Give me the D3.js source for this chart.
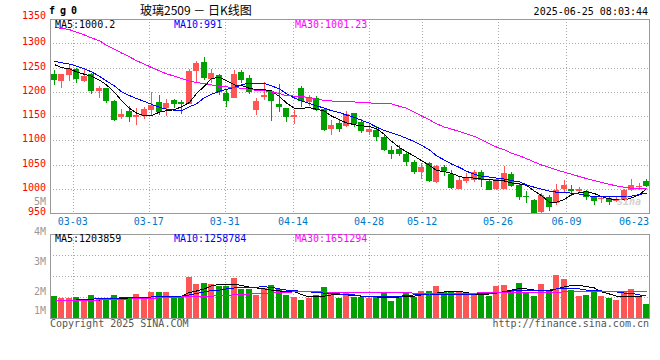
<!DOCTYPE html>
<html lang="zh">
<head>
    <meta charset="UTF-8">
    <title>fg0 日K线图</title>
    <script src="https://cdn.jsdelivr.net/npm/d3@7/dist/d3.min.js"></script>
    <style>
        body { margin: 0; background: #fff; }
        svg { display: block; }
        text { font-family: "DejaVu Sans Mono", monospace; font-size: 10px; white-space: pre; }
    </style>
</head>
<body>
    <script>

        //trading days shown, 02-26 .. 06-24
        var dates = ['02-26','02-27','02-28',
            '03-03','03-04','03-05','03-06','03-07','03-10','03-11','03-12','03-13','03-14',
            '03-17','03-18','03-19','03-20','03-21','03-24','03-25','03-26','03-27','03-28',
            '03-31','04-01','04-02','04-03','04-07','04-08','04-09','04-10','04-11',
            '04-14','04-15','04-16','04-17','04-18','04-21','04-22','04-23','04-24','04-25',
            '04-28','04-29','04-30','05-06','05-07','05-08','05-09',
            '05-12','05-13','05-14','05-15','05-16','05-19','05-20','05-21','05-22','05-23',
            '05-26','05-27','05-28','05-29','05-30','06-03','06-04','06-05','06-06',
            '06-09','06-10','06-11','06-12','06-13','06-16','06-17','06-18','06-19','06-20',
            '06-23','06-24'];

        //daily prices
        var open  = [1237,1222,1235,1246,1222,1237,1202,1208,1181,1147,1160,1148,1151,1162,1179,1167,1183,1178,1175,1243,
                     1262,1227,1235,1198,1188,1240,1229,1163,1190,1202,1175,1166,1147,1207,1178,1187,1164,1123,1136,1130,
                     1156,1138,1117,1122,1107,1079,1082,1072,1056,1034,1053,1013,1045,1030,1000,1016,1018,1035,1016,999,
                     1000,1031,1007,985,977,952,984,971,999,1000,995,996,982,979,981,974,977,998,1003,1015];
        var high  = [1245,1237,1255,1248,1247,1238,1212,1208,1182,1164,1170,1166,1168,1200,1193,1185,1186,1182,1246,1264,
                     1271,1246,1236,1206,1245,1245,1234,1188,1220,1203,1216,1167,1162,1212,1193,1191,1165,1142,1141,1161,
                     1157,1144,1133,1129,1111,1088,1091,1077,1059,1053,1055,1049,1049,1038,1026,1032,1038,1038,1018,1023,
                     1047,1035,1009,995,979,991,988,1010,1019,1007,1003,998,986,986,983,982,1000,1021,1012,1021];
        var low   = [1214,1208,1222,1218,1221,1196,1187,1177,1139,1143,1138,1132,1144,1149,1152,1151,1167,1155,1175,1221,
                     1225,1218,1193,1169,1187,1219,1195,1152,1184,1140,1159,1138,1134,1169,1171,1161,1120,1111,1117,1127,
                     1127,1115,1111,1099,1077,1062,1068,1046,1031,1021,1014,1011,1027,999,999,1012,1014,1003,997,998,
                     999,1003,976,971,950,950,955,967,992,985,991,977,967,971,966,972,975,995,998,1004];
        var close = [1224,1236,1248,1226,1232,1202,1208,1181,1142,1154,1147,1152,1165,1173,1158,1177,1174,1175,1242,1260,
                     1228,1238,1200,1181,1236,1224,1200,1181,1193,1180,1169,1147,1153,1181,1187,1163,1121,1132,1123,1154,
                     1133,1120,1124,1107,1080,1071,1072,1056,1034,1045,1015,1047,1036,1001,1018,1025,1034,1018,998,1020,
                     1032,1005,984,984,950,988,962,998,1007,995,999,982,974,981,972,979,998,1007,1005,1006];

        //moving averages as drawn
        var ma5  = [1256,1250,1247,1241,1236,1232,1224,1214,1199,1182,1166,1156,1150,1151,1158,1161,1163,1169,1178,1196,
                    1212,1227,1230,1223,1214,1213,1207,1204,1204,1202,1190,1177,1166,1166,1167,1164,1160,1150,1142,1136,
                    1132,1130,1128,1124,1112,1098,1085,1076,1067,1058,1048,1038,1035,1032,1025,1023,1022,1020,1019,1017,
                    1016,1012,1010,1007,995,986,972,972,978,988,992,994,990,984,979,978,977,981,988,1000];
        var ma10 = [1263,1260,1257,1253,1247,1241,1232,1222,1212,1200,1192,1186,1180,1174,1168,1164,1162,1161,1169,1175,
                    1188,1195,1201,1205,1209,1214,1218,1218,1217,1212,1206,1196,1187,1181,1176,1171,1166,1161,1157,1152,
                    1147,1141,1135,1127,1120,1115,1110,1104,1097,1090,1080,1068,1059,1051,1044,1036,1030,1026,1024,1022,
                    1020,1017,1014,1008,1003,999,995,993,992,991,989,986,984,984,984,984,984,985,988,991];
        var ma30 = [1332,1331,1328,1323,1317,1311,1305,1296,1288,1280,1272,1264,1257,1250,1243,1237,1232,1227,1222,1219,
                    1217,1214,1211,1210,1209,1207,1205,1203,1202,1200,1196,1192,1191,1190,1188,1185,1182,1181,1180,1180,
                    1179,1177,1177,1176,1176,1175,1170,1166,1158,1150,1142,1134,1127,1123,1118,1113,1108,1101,1093,1086,
                    1080,1073,1068,1062,1055,1049,1044,1039,1034,1030,1025,1021,1017,1013,1009,1006,1003,1001,1000,1001];

        //volume, millions
        var volume = [1.83,1.77,1.77,1.80,1.73,1.87,1.73,1.73,1.87,1.73,1.77,1.90,1.73,1.97,1.97,1.97,1.83,1.83,2.47,2.24,
                      2.28,2.24,2.17,2.17,2.43,2.07,2.07,1.87,2.09,2.20,2.07,1.87,1.80,1.70,1.77,1.87,2.13,1.97,1.77,1.97,
                      1.80,1.80,1.77,1.80,1.97,1.67,1.83,1.97,1.80,2.00,2.00,2.17,1.97,2.00,1.97,1.87,1.87,1.97,1.83,2.17,
                      2.20,2.03,2.27,1.97,1.83,2.23,2.00,2.53,2.40,2.03,1.83,1.87,2.03,1.83,1.77,1.70,2.00,2.07,1.83,1.57];
        var volMa5  = [1.70,1.70,1.70,1.70,1.70,1.70,1.70,1.72,1.73,1.75,1.77,1.77,1.78,1.80,1.83,1.83,1.83,1.83,1.95,2.00,
                       2.07,2.17,2.22,2.23,2.23,2.18,2.13,2.10,2.07,2.03,2.00,1.98,1.98,1.88,1.80,1.82,1.83,1.87,1.87,1.87,
                       1.85,1.83,1.81,1.80,1.78,1.78,1.80,1.82,1.83,1.87,1.90,1.93,1.97,1.98,1.98,1.95,1.90,1.87,1.90,1.93,
                       1.98,2.03,2.08,2.07,2.03,2.02,2.00,2.07,2.14,2.18,2.18,2.15,2.10,1.97,1.90,1.83,1.83,1.83,1.83,1.84];
        var volMa10 = [1.68,1.68,1.69,1.70,1.72,1.73,1.74,1.75,1.76,1.77,1.77,1.78,1.79,1.80,1.81,1.82,1.82,1.83,1.87,1.92,
                       1.97,2.02,2.03,2.07,2.10,2.12,2.13,2.13,2.14,2.12,2.07,2.03,2.02,1.98,1.97,1.95,1.93,1.92,1.90,1.88,
                       1.87,1.83,1.81,1.81,1.81,1.81,1.82,1.85,1.87,1.88,1.90,1.90,1.90,1.90,1.90,1.90,1.90,1.92,1.93,1.94,
                       1.97,2.00,2.03,2.03,2.02,2.01,2.03,2.07,2.09,2.08,2.07,2.03,2.02,2.00,2.00,1.97,1.93,1.92,1.87,1.83];
        var volMa30 = [1.67,1.67,1.67,1.68,1.69,1.69,1.70,1.71,1.72,1.73,1.73,1.74,1.75,1.76,1.77,1.78,1.79,1.80,1.81,1.82,
                       1.83,1.83,1.84,1.86,1.87,1.88,1.90,1.91,1.92,1.93,1.94,1.96,1.97,1.97,1.97,1.97,1.97,1.96,1.95,1.94,
                       1.94,1.94,1.94,1.94,1.94,1.94,1.94,1.94,1.93,1.93,1.93,1.92,1.92,1.92,1.93,1.93,1.93,1.94,1.94,1.94,
                       1.94,1.94,1.94,1.95,1.95,1.95,1.96,1.96,1.97,1.97,1.97,1.97,1.97,1.97,1.97,1.97,1.97,1.97,1.97,1.97];

        //axis ticks
        var dateTicks = ['03-03','03-17','03-31','04-14','04-28','05-12','05-26','06-09','06-23'];
        var priceTicks = [950,1000,1050,1100,1150,1200,1250,1300,1350];
        var volTicks = [1,2,3,4,5];

        //legend texts
        var priceLegend = ['MA5:1000.2','MA10:991','MA30:1001.23'];
        var volLegend = ['MA5:1203859','MA10:1258784','MA30:1651294'];
        var lineColors = ['#000000','#0000ff','#ff00ff'];

        //width and height
        var w = 660;
        var h = 360;
        var left = 50, right = 649;
        var top1 = 19, bottom1 = 213;
        var top2 = 234, bottom2 = 318;
        var up = '#ff5555', down = '#00a000';
        var gridColor = '#aaaaaa', frameColor = '#999999';

        var svg = d3.select('body')
                    .append('svg')
                    .attr('width', w)
                    .attr('height', h);

        //scales
        var x = d3.scaleBand()
                  .domain(d3.range(dates.length))
                  .range([left, right + 1])
                  .paddingInner(0.2)
                  .paddingOuter(0.1);
        //grid lines are spaced on n-1 steps, candles on n slots
        var xt = d3.scaleLinear()
                   .domain([0, dates.length - 1])
                   .range([left, right + 1]);
        var y = d3.scaleLinear().domain([950, 1350]).range([bottom1, top1]);
        var yv = d3.scaleLinear().domain([1, 4]).range([321, 231]);

        function cx(i) {
            return Math.round(x(i) + x.bandwidth() / 2) + 0.5;
        }

        //horizontal grid, main panel
        svg.selectAll('line.hgrid')
            .data(priceTicks.slice(1, -1))
            .enter()
            .append('line')
            .attr('x1', left).attr('x2', right)
            .attr('y1', function(d) { return Math.round(y(d)) + 0.5; })
            .attr('y2', function(d) { return Math.round(y(d)) + 0.5; })
            .attr('stroke', gridColor)
            .attr('stroke-dasharray', '1,2');

        //horizontal grid, volume panel (quarters)
        svg.selectAll('line.vgridh')
            .data([0.25, 0.5, 0.75])
            .enter()
            .append('line')
            .attr('x1', left).attr('x2', right)
            .attr('y1', function(d) { return Math.round(top2 + (bottom2 - top2) * d) + 0.5; })
            .attr('y2', function(d) { return Math.round(top2 + (bottom2 - top2) * d) + 0.5; })
            .attr('stroke', gridColor)
            .attr('stroke-dasharray', '1,2');

        //vertical grid, skip the last label which sits on the edge
        var tickIdx = dateTicks.map(function(d) { return dates.indexOf(d); });
        [[top1, bottom1], [top2, bottom2]].forEach(function(p) {
            svg.selectAll(null)
                .data(tickIdx.slice(0, -1))
                .enter()
                .append('line')
                .attr('x1', function(d) { return Math.round(xt(d)) + 0.5; })
                .attr('x2', function(d) { return Math.round(xt(d)) + 0.5; })
                .attr('y1', p[0]).attr('y2', p[1])
                .attr('stroke', gridColor)
                .attr('stroke-dasharray', '1,2');
        });

        //candles
        var idx = d3.range(dates.length);
        var candle = svg.selectAll('g.candle')
            .data(idx)
            .enter()
            .append('g')
            .attr('shape-rendering', 'crispEdges');

        candle.append('line')
            .attr('x1', cx).attr('x2', cx)
            .attr('y1', function(i) { return y(high[i]); })
            .attr('y2', function(i) { return y(low[i]); })
            .attr('stroke', function(i) { return close[i] >= open[i] ? up : down; });

        candle.append('rect')
            .attr('x', function(i) { return Math.round(x(i)); })
            .attr('y', function(i) { return y(Math.max(open[i], close[i])); })
            .attr('width', Math.round(x.bandwidth()))
            .attr('height', function(i) { return Math.max(1, Math.abs(y(open[i]) - y(close[i]))); })
            .attr('fill', function(i) { return close[i] >= open[i] ? up : down; });

        //volume bars
        svg.selectAll('rect.vol')
            .data(idx)
            .enter()
            .append('rect')
            .attr('shape-rendering', 'crispEdges')
            .attr('x', function(i) { return Math.round(x(i)); })
            .attr('y', function(i) { return yv(volume[i]); })
            .attr('width', Math.round(x.bandwidth()))
            .attr('height', function(i) { return bottom2 - yv(volume[i]); })
            .attr('fill', function(i) { return close[i] >= open[i] ? up : down; });

        //moving average lines
        function drawLine(values, scale, color) {
            var line = d3.line()
                .x(function(d, i) { return cx(i); })
                .y(function(d) { return scale(d); });
            svg.append('path')
                .datum(values)
                .attr('d', line)
                .attr('fill', 'none')
                .attr('stroke', color)
                .attr('stroke-width', 1)
                .attr('shape-rendering', 'crispEdges');
        }
        drawLine(ma5, y, lineColors[0]);
        drawLine(ma10, y, lineColors[1]);
        drawLine(ma30, y, lineColors[2]);
        drawLine(volMa5, yv, lineColors[0]);
        drawLine(volMa10, yv, lineColors[1]);
        drawLine(volMa30, yv, lineColors[2]);

        //panel frames
        [[top1, bottom1], [top2, bottom2]].forEach(function(p) {
            svg.append('rect')
                .attr('x', left + 0.5).attr('y', p[0] + 0.5)
                .attr('width', right - left).attr('height', p[1] - p[0])
                .attr('fill', 'none')
                .attr('stroke', frameColor)
                .attr('shape-rendering', 'crispEdges');
        });

        //price labels
        svg.selectAll('text.price')
            .data(priceTicks)
            .enter()
            .append('text')
            .text(function(d) { return d; })
            .attr('x', 46)
            .attr('y', function(d) { return y(d) + (d === 1350 ? 0 : 2); })
            .attr('text-anchor', 'end')
            .attr('fill', '#ff0000');

        //volume labels, the lowest one is pushed inside the panel
        svg.selectAll('text.vol')
            .data(volTicks)
            .enter()
            .append('text')
            .text(function(d) { return d + 'M'; })
            .attr('x', 46)
            .attr('y', function(d) { return Math.min(yv(d), bottom2 - 8) + 3.5; })
            .attr('text-anchor', 'end')
            .attr('fill', '#999999');

        //date labels, kept inside the frame
        svg.selectAll('text.date')
            .data(tickIdx)
            .enter()
            .append('text')
            .text(function(d) { return dates[d]; })
            .attr('x', function(d) { return Math.min(xt(d), right - 15); })
            .attr('y', 225)
            .attr('text-anchor', 'middle')
            .attr('fill', '#0078c8');

        //legends
        var legendX = [55, 174, 295];
        svg.selectAll('text.leg1')
            .data(priceLegend)
            .enter()
            .append('text')
            .text(function(d) { return d; })
            .attr('x', function(d, i) { return legendX[i]; })
            .attr('y', 28)
            .attr('fill', function(d, i) { return lineColors[i]; });
        svg.selectAll('text.leg2')
            .data(volLegend)
            .enter()
            .append('text')
            .text(function(d) { return d; })
            .attr('x', function(d, i) { return legendX[i]; })
            .attr('y', 242)
            .attr('fill', function(d, i) { return lineColors[i]; });

        //header
        svg.append('text')
            .text('fg0')
            .attr('x', 49).attr('y', 14)
            .attr('font-size', '12px')
            .attr('font-weight', 'bold')
            .attr('letter-spacing', '5px');
        svg.append('text')
            .text('玻璃2509 － 日K线图')
            .attr('x', 140).attr('y', 15)
            .style('font-family', '"Noto Sans CJK SC", sans-serif')
            .style('font-size', '12px')
            .style('white-space', 'pre');
        svg.append('text')
            .text('2025-06-25 08:03:44')
            .attr('x', 648).attr('y', 15)
            .attr('text-anchor', 'end');

        //watermark
        svg.append('text')
            .text('sina')
            .attr('x', 617).attr('y', 205)
            .attr('font-size', '13px')
            .attr('font-weight', 'bold')
            .attr('font-style', 'italic')
            .attr('fill', '#c8c8c8')
            .attr('opacity', 0.8);

        //footer
        svg.append('text')
            .text('Copyright 2025 SINA.COM')
            .attr('x', 50).attr('y', 327)
            .attr('fill', '#555555');
        svg.append('text')
            .text('http://finance.sina.com.cn')
            .attr('x', 649).attr('y', 327)
            .attr('text-anchor', 'end')
            .attr('fill', '#555555');

    </script>
</body>
</html>
